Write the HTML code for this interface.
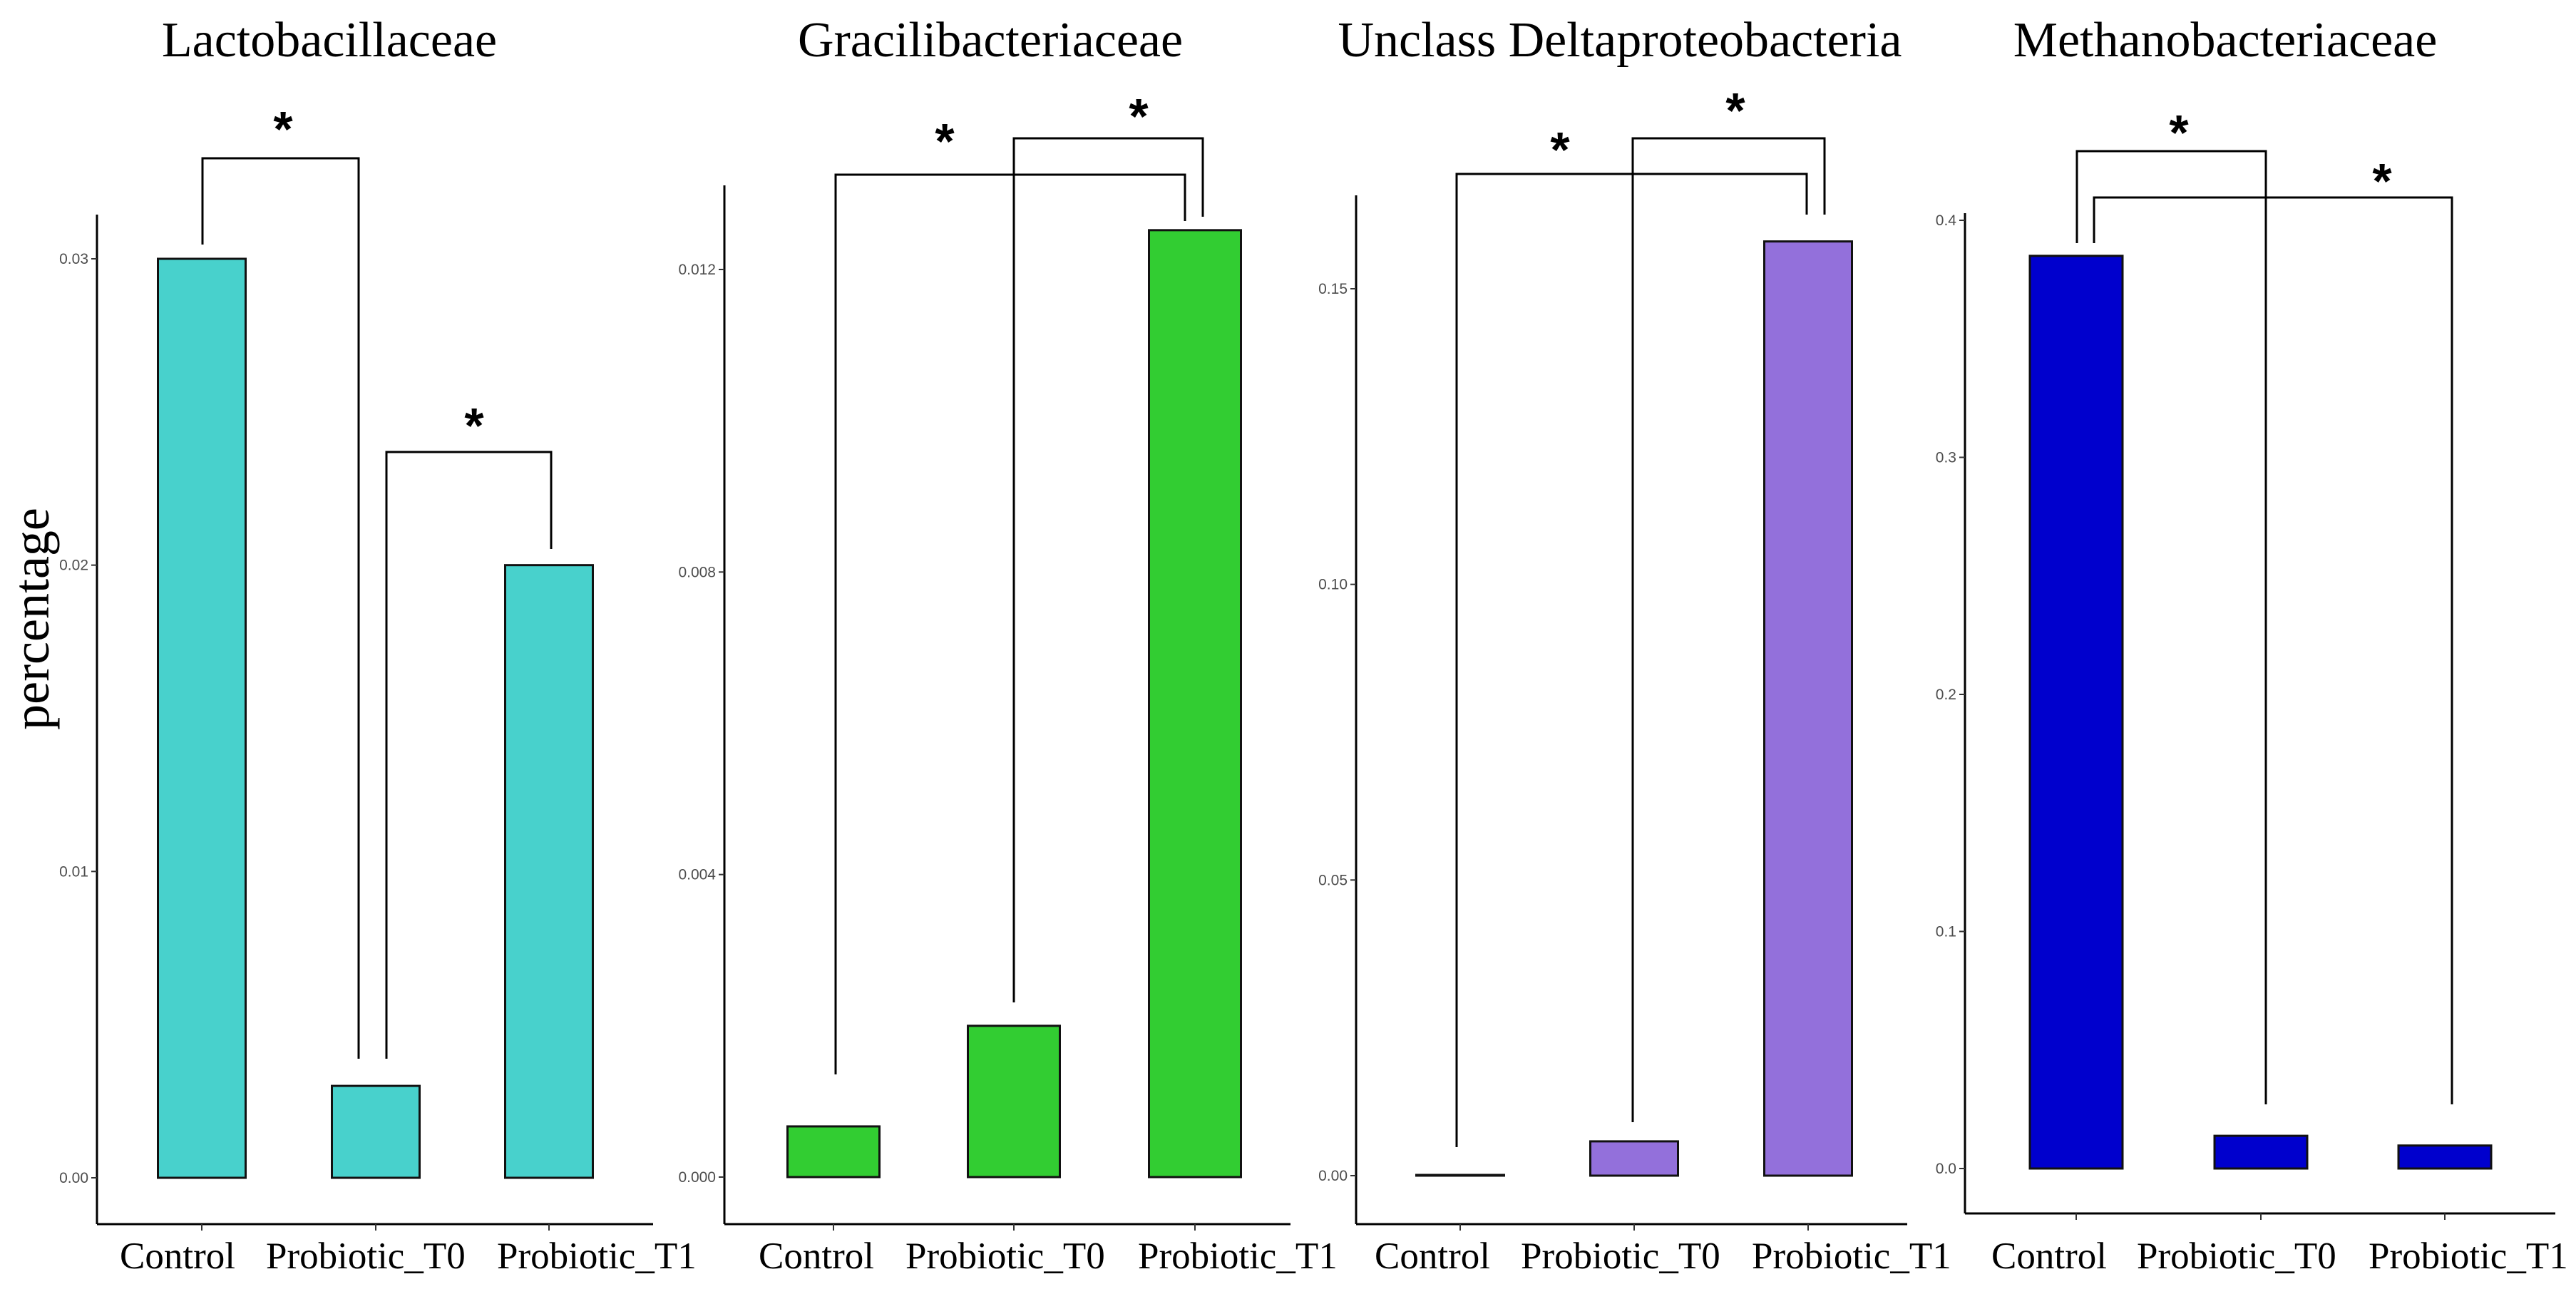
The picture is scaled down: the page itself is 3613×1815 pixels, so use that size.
<!DOCTYPE html>
<html><head><meta charset="utf-8"><style>
html,body{margin:0;padding:0;background:#fff;}
svg{display:block;}
</style></head><body>
<svg id="fig" width="3613" height="1815" viewBox="0 0 3613 1815" xmlns="http://www.w3.org/2000/svg">
<text transform="translate(68,868) rotate(-90)" text-anchor="middle" font-family="Liberation Serif, serif" font-size="72">percentage</text>
</svg>
<script>
const categories = ["Control", "Probiotic_T0", "Probiotic_T1"];
const titles = ["Lactobacillaceae", "Gracilibacteriaceae", "Unclass Deltaproteobacteria", "Methanobacteriaceae"];
const lactoValues = [0.030, 0.003, 0.020];
const gracilValues = [0.00067, 0.0020, 0.01252];
const deltaValues = [0.0, 0.0058, 0.158];
const methanoValues = [0.385, 0.0138, 0.0097];
const lactoTicks = [0, 0.01, 0.02, 0.03];
const lactoTickLabels = ["0.00", "0.01", "0.02", "0.03"];
const gracilTicks = [0, 0.004, 0.008, 0.012];
const gracilTickLabels = ["0.000", "0.004", "0.008", "0.012"];
const deltaTicks = [0, 0.05, 0.10, 0.15];
const deltaTickLabels = ["0.00", "0.05", "0.10", "0.15"];
const methanoTicks = [0, 0.1, 0.2, 0.3, 0.4];
const methanoTickLabels = ["0.0", "0.1", "0.2", "0.3", "0.4"];
const lactoSig = [[0, 1], [1, 2]];
const gracilSig = [[0, 2], [1, 2]];
const deltaSig = [[0, 2], [1, 2]];
const methanoSig = [[0, 1], [0, 2]];

const NS = "http://www.w3.org/2000/svg";
const svg = document.getElementById("fig");
function mk(tag, attrs, parent) {
  const e = document.createElementNS(NS, tag);
  for (const k in attrs) e.setAttribute(k, attrs[k]);
  (parent || svg).appendChild(e);
  return e;
}

const panels = [
  {key:"lacto", vals:lactoValues, ticks:lactoTicks, tl:lactoTickLabels, sig:lactoSig, color:"#48D1CC",
   axX:136, axTop:301, axBottom:1717, axRight:916, y0:1652, yMax:0.03, yMaxPx:363,
   centers:[283,527,770], barW:123, titleX:462, labelX:[168,373,697],
   brackets:[{lx:284,ly:343,top:222,rx:503,ry:1485,sx:397,sy:205},{lx:542,ly:1485,top:634,rx:773,ry:770,sx:665,sy:621}]},
  {key:"gracil", vals:gracilValues, ticks:gracilTicks, tl:gracilTickLabels, sig:gracilSig, color:"#32CD32",
   axX:1016, axTop:260, axBottom:1717, axRight:1810, y0:1651, yMax:0.012, yMaxPx:378,
   centers:[1169,1422,1676], barW:129, titleX:1389, labelX:[1064,1270,1596],
   brackets:[{lx:1172,ly:1507,top:245,rx:1662,ry:310,sx:1325,sy:222},{lx:1422,ly:1406,top:194,rx:1687,ry:304,sx:1597,sy:187}]},
  {key:"delta", vals:deltaValues, ticks:deltaTicks, tl:deltaTickLabels, sig:deltaSig, color:"#9370DB",
   axX:1902, axTop:274, axBottom:1717, axRight:2675, y0:1649, yMax:0.15, yMaxPx:405,
   centers:[2048,2292,2536], barW:123, titleX:2272, labelX:[1928,2133,2457],
   brackets:[{lx:2043,ly:1609,top:244,rx:2534,ry:301,sx:2188,sy:234},{lx:2290,ly:1574,top:194,rx:2559,ry:301,sx:2434,sy:179}]},
  {key:"methano", vals:methanoValues, ticks:methanoTicks, tl:methanoTickLabels, sig:methanoSig, color:"#0000CD",
   axX:2756, axTop:299, axBottom:1702, axRight:3584, y0:1639, yMax:0.4, yMaxPx:309,
   centers:[2912,3171,3429], barW:130, titleX:3121, labelX:[2793,2997,3322],
   brackets:[{lx:2913,ly:341,top:212,rx:3178,ry:1549,sx:3056,sy:210},{lx:2937,ly:341,top:277,rx:3439,ry:1549,sx:3341,sy:278}]}
];

panels.forEach((p, pi) => {
  const g = mk("g", {});
  
  
  const yScale = v => p.y0 - (v / p.yMax) * (p.y0 - p.yMaxPx);

  const t = mk("text", {x:p.titleX, y:79, "text-anchor":"middle", "font-family":"Liberation Serif, serif", "font-size":70}, g);
  t.textContent = titles[pi];
  
  

  const ya = mk("line", {x1:p.axX, y1:p.axTop, x2:p.axX, y2:p.axBottom, stroke:"#000", "stroke-width":3}, g);
  
  
  const xa = mk("line", {x1:p.axX, y1:p.axBottom, x2:p.axRight, y2:p.axBottom, stroke:"#000", "stroke-width":3}, g);
  
  

  p.ticks.forEach((tv, i) => {
    const y = yScale(tv);
    const tk = mk("line", {x1:p.axX - 8, y1:y, x2:p.axX, y2:y, stroke:"#333", "stroke-width":2}, g);
    
    
    const tl = mk("text", {x:p.axX - 12, y:y + 7, "text-anchor":"end", "font-family":"Liberation Sans, sans-serif", "font-size":21, fill:"#4d4d4d"}, g);
    tl.textContent = p.tl[i];
    
    
  });

  categories.forEach((c, i) => {
    const cx = p.centers[i];
    const top = Math.min(yScale(p.vals[i]), p.y0 - 1);
    const b = mk("rect", {x:cx - p.barW / 2, y:top, width:p.barW, height:p.y0 - top, fill:p.color, stroke:"#111", "stroke-width":3}, g);
    
    
    const xt = mk("line", {x1:cx, y1:p.axBottom, x2:cx, y2:p.axBottom + 9, stroke:"#333", "stroke-width":2}, g);
    
    
    const xl = mk("text", {x:p.labelX[i], y:1779, "font-family":"Liberation Serif, serif", "font-size":53}, g);
    xl.textContent = c;
    
    
  });

  p.sig.forEach((pair, k) => {
    const br = p.brackets[k];
    const pl = mk("polyline", {points:`${br.lx},${br.ly} ${br.lx},${br.top} ${br.rx},${br.top} ${br.rx},${br.ry}`, fill:"none", stroke:"#000", "stroke-width":3}, g);
    
    
    const st = mk("text", {x:br.sx, y:br.sy, "text-anchor":"middle", "font-family":"Liberation Sans, sans-serif", "font-weight":"bold", "font-size":70}, g);
    st.textContent = "*";
    
    
  });
});
</script>
</body></html>
